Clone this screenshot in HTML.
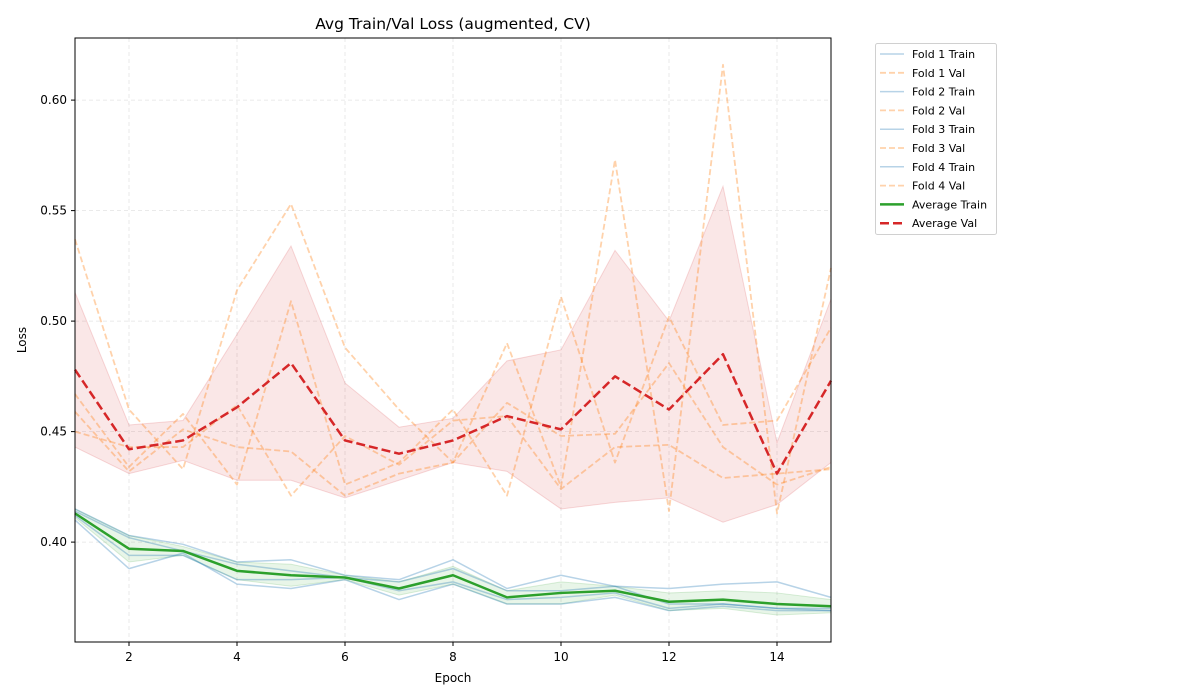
<!DOCTYPE html>
<html><head><meta charset="utf-8"><style>
html,body{margin:0;padding:0;background:#fff;}
svg{display:block;font-family:"DejaVu Sans","Liberation Sans",sans-serif;}
</style></head><body>
<svg id="chart" width="1200" height="700" viewBox="0 0 1200 700">
<text x="453" y="29" font-size="15.5" text-anchor="middle">Avg Train/Val Loss (augmented, CV)</text>
<g id="grid"></g>
<g id="bands"></g>
<g id="lines"></g>
<rect x="75" y="38" width="756" height="604" fill="none" stroke="#000" stroke-width="1"/>
<g id="axes"></g>
<text x="453" y="682" font-size="12" text-anchor="middle">Epoch</text>
<text x="26" y="340" font-size="12" text-anchor="middle" transform="rotate(-90 26 340)">Loss</text>
<g id="legend"></g>
</svg>
<script>
const epochs=[1,2,3,4,5,6,7,8,9,10,11,12,13,14,15];
const xTicks=[2,4,6,8,10,12,14];
const yTicks=[0.40,0.45,0.50,0.55,0.60];
const yTickLabels=["0.40","0.45","0.50","0.55","0.60"];
const fold1Train=[0.415,0.403,0.399,0.391,0.392,0.385,0.383,0.392,0.379,0.385,0.380,0.379,0.381,0.382,0.375];
const fold2Train=[0.414,0.402,0.396,0.390,0.387,0.384,0.382,0.388,0.378,0.378,0.380,0.372,0.372,0.370,0.370];
const fold3Train=[0.412,0.394,0.394,0.383,0.383,0.384,0.378,0.382,0.374,0.375,0.377,0.370,0.372,0.370,0.369];
const fold4Train=[0.410,0.388,0.395,0.381,0.379,0.383,0.374,0.381,0.372,0.372,0.375,0.369,0.371,0.369,0.369];
const fold1Val=[0.537,0.460,0.433,0.514,0.553,0.488,0.460,0.436,0.490,0.425,0.573,0.414,0.616,0.413,0.524];
const fold2Val=[0.467,0.434,0.458,0.426,0.509,0.426,0.436,0.460,0.421,0.511,0.436,0.502,0.453,0.455,0.497];
const fold3Val=[0.459,0.432,0.451,0.443,0.441,0.421,0.431,0.436,0.463,0.448,0.449,0.481,0.443,0.426,0.434];
const fold4Val=[0.450,0.443,0.443,0.462,0.421,0.448,0.435,0.455,0.457,0.424,0.443,0.444,0.429,0.431,0.433];
const avgTrain=[0.413,0.397,0.396,0.387,0.385,0.384,0.379,0.385,0.375,0.377,0.378,0.373,0.374,0.372,0.371];
const trainStd=[0.002,0.006,0.002,0.004,0.005,0.001,0.003,0.004,0.003,0.005,0.002,0.004,0.004,0.005,0.003];
const avgVal=[0.478,0.442,0.446,0.461,0.481,0.446,0.440,0.446,0.457,0.451,0.475,0.460,0.485,0.431,0.473];
const valStd=[0.035,0.011,0.009,0.033,0.053,0.026,0.012,0.010,0.025,0.036,0.057,0.040,0.076,0.014,0.037];

const NS="http://www.w3.org/2000/svg";
const X0=75,X1=831,Y0=38,Y1=642,XMIN=1,XMAX=15,YMIN=0.3548,YMAX=0.6281;
function sx(v){return X0+(v-XMIN)/(XMAX-XMIN)*(X1-X0);}
function sy(v){return Y1-(v-YMIN)/(YMAX-YMIN)*(Y1-Y0);}
function mk(tag,attrs,parent){const e=document.createElementNS(NS,tag);for(const k in attrs)e.setAttribute(k,attrs[k]);parent.appendChild(e);return e;}
const grid=document.getElementById('grid'),axes=document.getElementById('axes'),bands=document.getElementById('bands'),lines=document.getElementById('lines'),legend=document.getElementById('legend');

xTicks.forEach(t=>{
  const g=mk('line',{x1:sx(t),x2:sx(t),y1:Y0,y2:Y1,stroke:'#e3e3e3','stroke-dasharray':'4,3','stroke-width':0.8},grid);
  
  
  const tk=mk('line',{x1:sx(t),x2:sx(t),y1:Y1,y2:Y1+4,stroke:'#000'},axes);
  
  
  const tl=mk('text',{x:sx(t),y:Y1+19,'font-size':12,'text-anchor':'middle'},axes);
  tl.textContent=String(t);
  
  
});
yTicks.forEach((t,i)=>{
  const g=mk('line',{x1:X0,x2:X1,y1:sy(t),y2:sy(t),stroke:'#e3e3e3','stroke-dasharray':'4,3','stroke-width':0.8},grid);
  
  
  const tk=mk('line',{x1:X0-4,x2:X0,y1:sy(t),y2:sy(t),stroke:'#000'},axes);
  
  
  const tl=mk('text',{x:X0-8,y:sy(t)+4,'font-size':12,'text-anchor':'end'},axes);
  tl.textContent=yTickLabels[i];
  
  
});

function band(avg,sd,fill,op,name){
  let pts=epochs.map((e,i)=>sx(e)+','+sy(avg[i]+sd[i]));
  for(let i=epochs.length-1;i>=0;i--)pts.push(sx(epochs[i])+','+sy(avg[i]-sd[i]));
  const p=mk('polygon',{points:pts.join(' '),fill:fill,'fill-opacity':op,stroke:fill,'stroke-opacity':op*1.5,'stroke-width':1},bands);
  
  
}
band(avgVal,valStd,'#d62728',0.11,'val-std-band');
band(avgTrain,trainStd,'#2ca02c',0.11,'train-std-band');

function line(vals,stroke,w,dash,op,name){
  const p=mk('polyline',{points:epochs.map((e,i)=>sx(e)+','+sy(vals[i])).join(' '),fill:'none',stroke:stroke,'stroke-width':w,'stroke-opacity':op,'stroke-linejoin':'round'},lines);
  if(dash)p.setAttribute('stroke-dasharray',dash);
  
  
}
const trains=[fold1Train,fold2Train,fold3Train,fold4Train],vals=[fold1Val,fold2Val,fold3Val,fold4Val];
trains.forEach((t,i)=>line(t,'#1f77b4',1.5,null,0.32,'fold-'+(i+1)+'-train-line'));
vals.forEach((v,i)=>line(v,'#ff7f0e',1.8,'6,3',0.35,'fold-'+(i+1)+'-val-line'));
line(avgTrain,'#2ca02c',2.5,null,1,'average-train-line');
line(avgVal,'#d62728',2.5,'9,4',1,'average-val-line');

const lb=mk('rect',{x:875.5,y:43.5,width:121,height:191,rx:2,fill:'#fff',stroke:'#d0d0d0'},legend);


const entries=[['Fold 1 Train','#1f77b4',1.5,null,0.32],['Fold 1 Val','#ff7f0e',1.8,'6,3',0.35],['Fold 2 Train','#1f77b4',1.5,null,0.32],['Fold 2 Val','#ff7f0e',1.8,'6,3',0.35],['Fold 3 Train','#1f77b4',1.5,null,0.32],['Fold 3 Val','#ff7f0e',1.8,'6,3',0.35],['Fold 4 Train','#1f77b4',1.5,null,0.32],['Fold 4 Val','#ff7f0e',1.8,'6,3',0.35],['Average Train','#2ca02c',2.5,null,1],['Average Val','#d62728',2.5,'9,4',1]];
entries.forEach((en,i)=>{
  const y=54+i*18.8;
  const g=mk('g',{},legend);
  
  
  const l=mk('line',{x1:880,x2:904,y1:y,y2:y,stroke:en[1],'stroke-width':en[2],'stroke-opacity':en[4]},g);
  if(en[3])l.setAttribute('stroke-dasharray',en[3]);
  const t=mk('text',{x:912,y:y+4,'font-size':11},g);
  t.textContent=en[0];
});
</script>
</body></html>
